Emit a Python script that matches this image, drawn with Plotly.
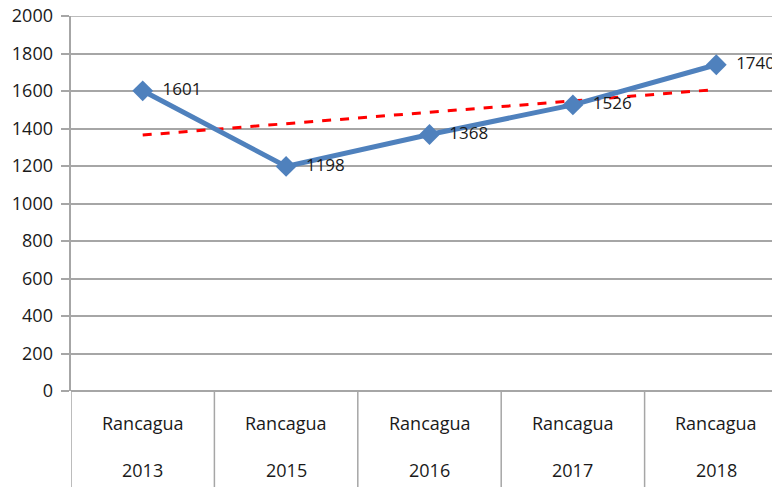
import plotly.graph_objects as go

ciudad = "Rancagua"
anios = ["2013", "2015", "2016", "2017", "2018"]
casos = [1601, 1198, 1368, 1526, 1740]
# linear trend line (start / end)
tendencia = [1365, 1608]
y_max = 2000

x_idx = list(range(len(anios)))
grid = "#A6A6A6"
font = "Open Sans, Lato, sans-serif"
txt = "#1a1a1a"

fig = go.Figure()

fig.add_trace(go.Scatter(
    x=[x_idx[0], x_idx[-1]], y=tendencia,
    mode="lines",
    line=dict(color="#FF0000", width=3, dash="dash"),
    hoverinfo="skip",
))

fig.add_trace(go.Scatter(
    x=x_idx, y=casos,
    mode="lines+markers+text",
    line=dict(color="#4F81BD", width=5),
    marker=dict(symbol="diamond", size=16, color="#4F81BD"),
    text=["  " + str(v) for v in casos],
    textposition="middle right",
    textfont=dict(family=font, size=17, color=txt),
    cliponaxis=False,
))

# top gridline (plotly skips it at the plot edge)
shapes = [dict(
    type="line", xref="paper", yref="y",
    x0=0, x1=1, y0=y_max, y1=y_max,
    line=dict(color=grid, width=1.5), layer="below",
)]
# vertical separators under the axis between categories
for k in range(len(anios) + 1):
    shapes.append(dict(
        type="line", xref="x", yref="paper",
        x0=k - 0.5, x1=k - 0.5, y0=0, y1=-0.3,
        line=dict(color=grid, width=1.5),
    ))

annotations = []
for i, a in zip(x_idx, anios):
    annotations.append(dict(
        x=i, y=-0.085, xref="x", yref="paper", text=ciudad, yanchor="middle",
        showarrow=False, font=dict(family=font, size=18, color=txt),
    ))
    annotations.append(dict(
        x=i, y=-0.21, xref="x", yref="paper", text=a, yanchor="middle",
        showarrow=False, font=dict(family=font, size=18, color=txt),
    ))

fig.update_layout(
    width=780, height=487,
    margin=dict(l=63, r=0, t=8, b=104, autoexpand=False),
    paper_bgcolor="white", plot_bgcolor="white",
    showlegend=False,
    shapes=shapes,
    annotations=annotations,
    xaxis=dict(
        range=[-0.5, 4.5],
        showticklabels=False, showgrid=False, zeroline=False,
        showline=False,
    ),
    yaxis=dict(
        range=[0, y_max], dtick=200,
        showgrid=True, gridcolor=grid, gridwidth=1.5,
        zeroline=True, zerolinecolor=grid, zerolinewidth=1.5,
        showline=True, linecolor=grid, linewidth=1.5,
        ticks="outside", ticklen=8, tickcolor=grid, tickwidth=1.5,
        ticksuffix=" ", ticklabeloverflow="allow",
        tickfont=dict(family=font, size=18, color=txt),
    ),
)

fig.write_html("out.html")
